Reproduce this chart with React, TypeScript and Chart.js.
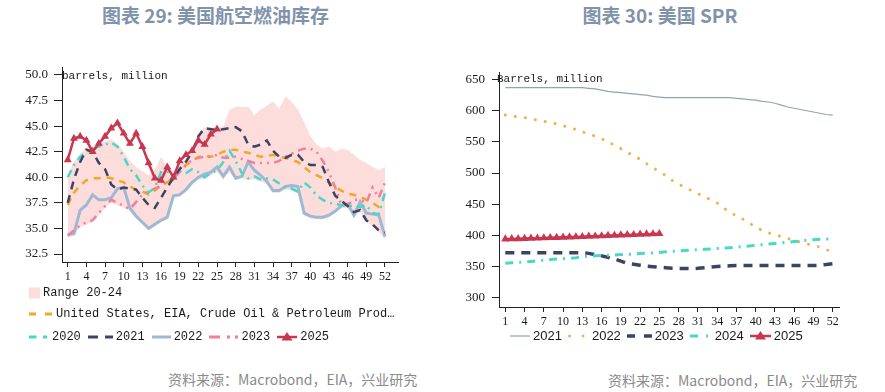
import { useEffect, useRef } from "react";
import { Chart, registerables } from "chart.js";

Chart.register(...registerables);

// ---------- shared categories ----------
const weeks = [1, 2, 3, 4, 5, 6, 7, 8, 9, 10, 11, 12, 13, 14, 15, 16, 17, 18, 19, 20, 21, 22, 23, 24, 25, 26,
  27, 28, 29, 30, 31, 32, 33, 34, 35, 36, 37, 38, 39, 40, 41, 42, 43, 44, 45, 46, 47, 48, 49, 50, 51, 52];
const weekTicks = [1, 4, 7, 10, 13, 16, 19, 22, 25, 28, 31, 34, 37, 40, 43, 46, 49, 52];

// ---------- chart 29: US jet fuel stocks (barrels, million) ----------
const jetTitle = "图表 29: 美国航空燃油库存";
const jetUnit = "barrels, million";
const jetYTicks = [32.5, 35, 37.5, 40, 42.5, 45, 47.5, 50];
const jetRangeLabel = "Range 20-24";
const jetEiaLabel = "United States, EIA, Crude Oil & Petroleum Prod…";
const jetRangeHigh = [40.2, 41.5, 42.3, 42.9, 43.0, 43.2, 43.5, 43.7, 43.3, 42.5, 41.6, 41.0, 40.6, 40.2, 40.7, 42.0, 41.0,
  40.6, 41.2, 41.8, 42.8, 44.2, 44.9, 44.9, 44.8, 45.0, 46.6, 46.9, 46.9, 46.9, 46.1, 46.6, 47.0, 47.4, 46.7, 47.9,
  47.4, 46.6, 45.4, 44.0, 43.2, 42.8, 43.0, 42.5, 42.8, 42.7, 42.2, 41.7, 41.4, 41.0, 40.7, 41.0];
const jetRangeLow = [34.1, 34.3, 35.1, 35.4, 35.6, 36.3, 37.0, 37.5, 37.3, 37.0, 36.7, 36.0, 35.4, 34.8, 35.2, 35.6, 35.9,
  38.0, 38.1, 38.6, 39.3, 39.8, 39.8, 40.2, 40.5, 39.9, 40.5, 39.7, 39.9, 39.7, 39.8, 39.6, 39.4, 38.5, 38.5, 38.8,
  38.7, 38.4, 36.3, 36.0, 35.9, 35.9, 36.1, 36.5, 37.0, 37.0, 36.1, 36.6, 35.7, 35.2, 34.6, 34.0];
const jetEia = [37.3, 38.5, 39.2, 39.7, 39.9, 39.9, 40.0, 39.9, 39.7, 39.5, 39.1, 38.8, 38.6, 38.3, 38.7, 39.2, 39.5,
  40.0, 40.6, 41.2, 41.6, 42.0, 42.1, 42.0, 42.2, 42.5, 42.7, 42.7, 42.5, 42.4, 42.2, 42.0, 42.1, 42.2, 42.0, 41.9,
  41.7, 41.5, 41.0, 40.5, 40.2, 39.9, 39.5, 39.0, 38.7, 38.4, 38.3, 38.1, 37.8, 37.5, 37.1, 37.3];
const jet2020 = [40.0, 41.2, 42.0, 42.5, 42.8, 43.0, 43.2, 43.4, 43.0, 42.0, 40.8, 40.2, 39.2, 38.5, 39.0, 40.5, 40.6,
  39.8, 40.6, 40.4, 40.8, 40.5, 40.0, 40.4, 40.7, 41.5, 42.6, 41.6, 40.4, 39.9, 40.1, 39.8, 39.9, 39.8, 39.4, 39.0,
  38.9, 38.6, 39.5, 39.0, 38.2, 37.8, 37.5, 37.4, 37.3, 37.2, 37.2, 37.1, 37.3, 36.5, 36.4, 38.5];
const jet2021 = [37.5, 39.8, 41.5, 42.7, 42.5, 41.4, 40.8, 39.3, 38.8, 39.0, 38.9, 38.8, 38.0, 37.3, 37.0, 38.0, 39.0,
  40.0, 40.8, 41.5, 42.5, 44.0, 44.8, 44.7, 44.6, 44.7, 44.8, 44.9, 44.5, 43.2, 43.0, 43.2, 43.6, 42.6, 42.0, 41.9,
  42.2, 42.2, 41.5, 41.2, 41.2, 41.0, 39.5, 38.2, 37.7, 37.2, 36.6, 36.8, 35.8, 35.4, 34.8, 34.6];
const jet2022 = [34.4, 34.5, 36.8, 37.3, 38.3, 37.8, 37.8, 38.0, 38.9, 39.0, 37.0, 36.2, 35.6, 35.0, 35.4, 35.8, 36.1,
  38.2, 38.3, 38.8, 39.5, 40.0, 40.3, 40.5, 41.0, 40.1, 41.0, 39.9, 40.1, 41.5, 40.7, 40.2, 39.6, 38.7, 38.7, 39.1,
  39.2, 39.1, 36.5, 36.2, 36.1, 36.1, 36.3, 36.7, 37.2, 37.4, 36.3, 37.6, 36.5, 36.4, 36.3, 34.2];
const jet2023 = [34.3, 34.8, 35.3, 35.6, 35.8, 36.5, 37.2, 37.8, 37.5, 37.2, 36.9, 37.6, 38.3, 38.6, 38.9, 39.2, 39.6,
  39.9, 40.5, 41.2, 41.7, 41.9, 42.0, 42.0, 42.2, 41.9, 41.9, 42.0, 41.8, 41.6, 41.4, 41.4, 41.4, 41.4, 41.6, 42.0,
  42.3, 42.6, 42.8, 42.8, 42.5, 41.6, 40.5, 39.0, 37.3, 37.3, 37.8, 37.8, 37.5, 39.0, 38.0, 39.5];
const jet2025 = [41.7, 43.8, 44.0, 43.6, 42.5, 43.3, 44.0, 44.8, 45.3, 44.3, 43.3, 44.3, 43.0, 41.4, 39.9, 39.7, 41.0,
  40.0, 41.6, 42.2, 42.6, 43.6, 43.2, 44.2, 44.7];

// ---------- chart 30: US SPR (barrels, million) ----------
const sprTitle = "图表 30: 美国 SPR";
const sprUnit = "Barrels, million";
const sprYTicks = [300, 350, 400, 450, 500, 550, 600, 650];
const spr2021 = [637, 637, 637, 637, 637, 637, 637, 637, 637, 637, 637, 637, 637, 636, 635, 633, 631, 630, 629, 628,
  627, 626, 625, 623, 622, 621, 621, 621, 621, 621, 621, 621, 621, 621, 621, 621, 620, 619, 618, 617, 615, 614, 612,
  609, 606, 604, 602, 600, 598, 596, 594, 593];
const spr2022 = [593, 592, 590, 589, 587, 585, 583, 581, 579, 576, 573, 570, 566, 563, 559, 555, 551, 544, 539, 533,
  528, 522, 515, 509, 502, 496, 488, 482, 477, 472, 467, 462, 457, 452, 444, 437, 431, 426, 420, 413, 408, 404, 401,
  398, 395, 391, 389, 386, 384, 381, 377, 373];
const spr2023 = [372, 372, 372, 372, 372, 372, 372, 372, 372, 372, 372, 372, 372, 371, 369, 367, 364.5, 362, 358.5,
  355, 353.5, 352, 350.5, 349.5, 348.7, 348, 347, 346.6, 346.6, 346.6, 347, 348, 349, 350, 350.5, 351, 351.4, 351.4,
  351.4, 351.4, 351.4, 351.4, 351.4, 351.4, 351.4, 351.4, 351.4, 351.4, 351.4, 352, 353, 354.5];
const spr2024 = [355, 356, 356.5, 357, 358, 359, 360, 361, 362, 362.5, 363, 364, 365.5, 366.5, 367, 367.5, 368, 368.5,
  369, 369.5, 370, 370.7, 371.2, 371.8, 372.5, 373.5, 374.3, 375, 375.5, 376.2, 377, 377.5, 378, 378.8, 379.5, 380.2,
  381, 382, 383, 384, 385, 386, 387, 388, 389, 390, 391, 392, 393, 393.5, 394, 394.5];
const spr2025 = [394, 394.2, 394.5, 394.9, 395.2, 395.4, 395.8, 396.2, 396.4, 396.7, 397.1, 397.4, 397.8, 398.3,
  398.6, 399.0, 399.5, 399.8, 400.3, 400.7, 401.0, 401.5, 401.9, 402.2, 402.6];

const sourceText = "资料来源：Macrobond，EIA，兴业研究";

// ---------- styles ----------
const SERIF = '"Liberation Serif", "Times New Roman", serif';
const MONO = '"Liberation Mono", "DejaVu Sans Mono", monospace';
const SANS = '"Liberation Sans", Arial, sans-serif';
const CJK = '"Noto Sans CJK SC", "Noto Sans", sans-serif';
const AXIS = "#222222";
const TXT = "#1a1a1a";
const BAND = "#fddcdc";
const ORANGE = "#f4a627";
const TEAL = "#4ad8c6";
const NAVY = "#3c4463";
const LIGHTBLUE = "#9db9d4";
const PINK = "#f27d9c";
const RED = "#c9364f";
const GREYTEAL = "#8ea8a8";
const DOTORANGE = "#f1b24a";

function xAxis(min: number, max: number, height: number) {
  return {
    type: "linear",
    min,
    max,
    afterBuildTicks: (s: any) => {
      s.ticks = weekTicks.map((v) => ({ value: v }));
    },
    afterFit: (s: any) => {
      s.height = height;
    },
    ticks: {
      autoSkip: false,
      maxRotation: 0,
      padding: 3,
      color: TXT,
      font: { family: SERIF, size: 12 },
      callback: (v: any) => String(v),
    },
    grid: { display: true, drawOnChartArea: false, drawTicks: true, tickLength: 5, color: AXIS },
    border: { display: true, color: AXIS, width: 1 },
  };
}

function yAxis(min: number, max: number, ticks: number[], width: number, tickLen: number, pad: number, digits: number) {
  return {
    type: "linear",
    min,
    max,
    afterBuildTicks: (s: any) => {
      s.ticks = ticks.map((v) => ({ value: v }));
    },
    afterFit: (s: any) => {
      s.width = width;
    },
    ticks: {
      padding: pad,
      color: TXT,
      font: { family: SERIF, size: 13 },
      callback: (v: any) => Number(v).toFixed(digits),
    },
    grid: { display: true, drawOnChartArea: false, drawTicks: true, tickLength: tickLen, color: AXIS },
    border: { display: true, color: AXIS, width: 1 },
  };
}

function line(label: string, data: number[], color: string, width: number, dash: number[], order: number, extra: any = {}) {
  return {
    label,
    data,
    borderColor: color,
    backgroundColor: color,
    borderWidth: width,
    borderDash: dash,
    pointRadius: 0,
    pointHoverRadius: 0,
    fill: false,
    tension: 0,
    order,
    ...extra,
  };
}

function baseOptions(x: any, y: any, padding: any) {
  return {
    animation: false,
    responsive: false,
    maintainAspectRatio: false,
    events: [],
    layout: { padding },
    plugins: { legend: { display: false }, tooltip: { enabled: false }, title: { display: false } },
    scales: { x, y },
  };
}

function jetConfig(): any {
  return {
    type: "line",
    data: {
      labels: weeks,
      datasets: [
        line(jetRangeLabel, jetRangeHigh, "transparent", 0, [], 10, { fill: "+1", backgroundColor: BAND }),
        line("range-low", jetRangeLow, "transparent", 0, [], 11),
        line(jetEiaLabel, jetEia, ORANGE, 2.5, [7, 6], 4),
        line("2020", jet2020, TEAL, 2.5, [8, 5, 2, 5], 2),
        line("2021", jet2021, NAVY, 2.5, [8, 6], 1),
        line("2022", jet2022, LIGHTBLUE, 3, [], 5),
        line("2023", jet2023, PINK, 2.5, [8, 5, 2, 5, 2, 5], 3),
        line("2025", jet2025, RED, 2.5, [], 0, {
          pointStyle: "triangle",
          pointRadius: 4.6,
          pointBackgroundColor: RED,
          pointBorderWidth: 0,
        }),
      ],
    },
    options: baseOptions(
      xAxis(0.08, 54.09, 22),
      yAxis(31.72, 50.78, jetYTicks, 62, 8, 6, 1),
      { left: 0, top: 27, right: 42, bottom: 0 }
    ),
  };
}

function sprConfig(): any {
  return {
    type: "line",
    data: {
      labels: weeks,
      datasets: [
        line("2021", spr2021, GREYTEAL, 1.2, [], 4),
        line("2022", spr2022, DOTORANGE, 3, [0.1, 10], 3, { borderCapStyle: "round" }),
        line("2023", spr2023, NAVY, 3.5, [9, 7], 2),
        line("2024", spr2024, TEAL, 3, [8, 6, 2, 6], 1),
        line("2025", spr2025, RED, 2.5, [], 0, {
          pointStyle: "triangle",
          pointRadius: 4.8,
          pointBackgroundColor: RED,
          pointBorderWidth: 0,
        }),
      ],
    },
    options: baseOptions(
      xAxis(0.02, 52.98, 22),
      yAxis(284.9, 662.2, sprYTicks, 59, 7, 7, 0),
      { left: 0, top: 32, right: 46, bottom: 0 }
    ),
  };
}

// ---------- legend (html) ----------
type SwatchSpec = {
  kind: "box" | "line";
  width: number;
  color: string;
  lineWidth?: number;
  dash?: string;
  cap?: "butt" | "round";
  x1?: number;
  triangle?: boolean;
};

function Swatch({ s }: { s: SwatchSpec }) {
  const cy = 7;
  return (
    <svg width={s.width} height={14} style={{ display: "block", overflow: "visible", flex: "none" }}>
      {s.kind === "box" ? (
        <rect x={0} y={1.5} width={s.width} height={11} fill={s.color} />
      ) : (
        <line
          x1={s.x1 ?? 0}
          y1={cy}
          x2={s.width}
          y2={cy}
          stroke={s.color}
          strokeWidth={s.lineWidth ?? 2}
          strokeDasharray={s.dash}
          strokeLinecap={s.cap ?? "butt"}
        />
      )}
      {s.triangle ? (
        <polygon
          points={`${s.width / 2 - 5.5},${cy + 3.5} ${s.width / 2 + 5.5},${cy + 3.5} ${s.width / 2},${cy - 5}`}
          fill={s.color}
        />
      ) : null}
    </svg>
  );
}

function LegendRow(props: {
  items: { label: string; swatch: SwatchSpec }[];
  left: number;
  top: number;
  gap: number;
  innerGap: number;
  font: string;
  size: number;
}) {
  return (
    <div
      style={{
        position: "absolute",
        left: props.left,
        top: props.top,
        height: 20,
        display: "flex",
        alignItems: "center",
        gap: props.gap,
        fontFamily: props.font,
        fontSize: props.size,
        color: TXT,
        whiteSpace: "pre",
      }}
    >
      {props.items.map((it) => (
        <div key={it.label} style={{ display: "flex", alignItems: "center", gap: props.innerGap }}>
          <Swatch s={it.swatch} />
          <span style={{ lineHeight: "20px" }}>{it.label}</span>
        </div>
      ))}
    </div>
  );
}

const titleStyle: any = {
  position: "absolute",
  top: 3,
  height: 24,
  lineHeight: "24px",
  textAlign: "center",
  fontFamily: CJK,
  fontWeight: 700,
  fontSize: 19,
  color: "#8193ab",
  whiteSpace: "pre",
};

const sourceStyle: any = {
  position: "absolute",
  height: 20,
  lineHeight: "20px",
  fontFamily: CJK,
  fontSize: 14,
  color: "#8a8a8a",
  whiteSpace: "pre",
};

const unitStyle: any = {
  position: "absolute",
  height: 14,
  lineHeight: "14px",
  fontFamily: MONO,
  fontSize: 11,
  color: TXT,
  whiteSpace: "pre",
};

export default function App() {
  const jetRef = useRef<HTMLCanvasElement>(null);
  const sprRef = useRef<HTMLCanvasElement>(null);

  useEffect(() => {
    const a = new Chart(jetRef.current as HTMLCanvasElement, jetConfig());
    const b = new Chart(sprRef.current as HTMLCanvasElement, sprConfig());
    return () => {
      a.destroy();
      b.destroy();
    };
  }, []);

  return (
    <div
      style={{
        position: "absolute",
        left: 0,
        top: 0,
        width: 885,
        height: 392,
        background: "#ffffff",
        overflow: "hidden",
      }}
    >
      <canvas ref={jetRef} width={440} height={244} style={{ position: "absolute", left: 0, top: 40 }} />
      <canvas ref={sprRef} width={445} height={289} style={{ position: "absolute", left: 440, top: 40 }} />

      <div style={{ ...titleStyle, left: 0, width: 431 }}>{jetTitle}</div>
      <div style={{ ...titleStyle, left: 440, width: 440 }}>{sprTitle}</div>

      <div style={{ ...unitStyle, left: 62, top: 69 }}>{jetUnit}</div>
      <div style={{ ...unitStyle, left: 497, top: 72 }}>{sprUnit}</div>

      <LegendRow
        left={29}
        top={283}
        gap={7}
        innerGap={3}
        font={MONO}
        size={12}
        items={[{ label: jetRangeLabel, swatch: { kind: "box", width: 11, color: BAND } }]}
      />
      <LegendRow
        left={29}
        top={304}
        gap={7}
        innerGap={4}
        font={MONO}
        size={12}
        items={[{ label: jetEiaLabel, swatch: { kind: "line", width: 23, color: ORANGE, lineWidth: 3, dash: "7 9" } }]}
      />
      <LegendRow
        left={29}
        top={327}
        gap={7}
        innerGap={3}
        font={MONO}
        size={12}
        items={[
          { label: "2020", swatch: { kind: "line", width: 20, color: TEAL, lineWidth: 3, dash: "7.5 6.5 4 30" } },
          { label: "2021", swatch: { kind: "line", width: 25, color: NAVY, lineWidth: 3, dash: "10 7" } },
          { label: "2022", swatch: { kind: "line", width: 19, color: LIGHTBLUE, lineWidth: 3 } },
          { label: "2023", swatch: { kind: "line", width: 29, color: PINK, lineWidth: 3, dash: "11 7 3 5 3 30" } },
          { label: "2025", swatch: { kind: "line", width: 20, color: RED, lineWidth: 2.5, triangle: true } },
        ]}
      />

      <LegendRow
        left={510}
        top={326}
        gap={6}
        innerGap={3}
        font={SANS}
        size={13}
        items={[
          { label: "2021", swatch: { kind: "line", width: 20, color: GREYTEAL, lineWidth: 1.2 } },
          {
            label: "2022",
            swatch: { kind: "line", width: 21, x1: 1.5, color: DOTORANGE, lineWidth: 3, dash: "0.01 13.5", cap: "round" },
          },
          { label: "2023", swatch: { kind: "line", width: 25, color: NAVY, lineWidth: 3.5, dash: "8 9" } },
          { label: "2024", swatch: { kind: "line", width: 22, color: TEAL, lineWidth: 3, dash: "8 8 2 30" } },
          { label: "2025", swatch: { kind: "line", width: 21, color: RED, lineWidth: 2.5, triangle: true } },
        ]}
      />

      <div style={{ ...sourceStyle, left: 168, top: 369 }}>{sourceText}</div>
      <div style={{ ...sourceStyle, left: 608, top: 370 }}>{sourceText}</div>
    </div>
  );
}
